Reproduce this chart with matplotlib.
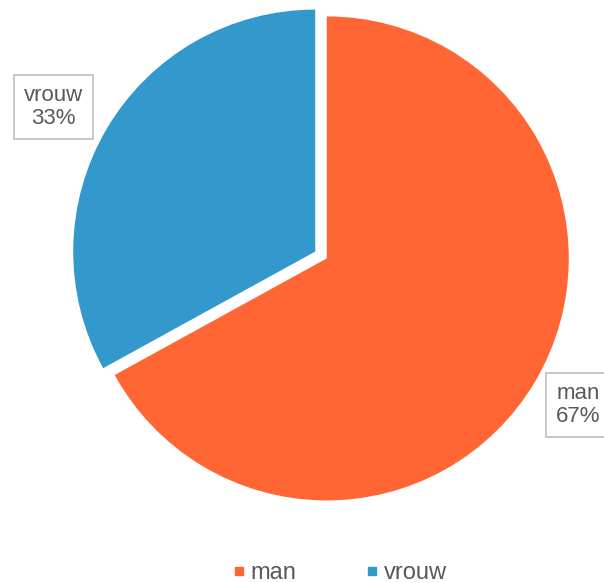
import matplotlib.pyplot as plt
from matplotlib.lines import Line2D

plt.rcParams['font.family'] = ['Liberation Sans', 'DejaVu Sans']

# data
labels = ['man', 'vrouw']
values = [67, 33]
colors = ['#FF6633', '#3399CC']
text_color = '#595959'

fig = plt.figure(figsize=(6.04, 5.83), dpi=100)
ax = fig.add_axes([0, 0, 1, 1])

# pie in pixel-like units (y up)
radius = 242
center = (321, 583 - 255)
ax.pie(values, colors=colors, startangle=90, counterclock=False,
       radius=radius, center=center, explode=[6.7, 6.7],
       wedgeprops=dict(linewidth=0))
ax.set_xlim(0, 604)
ax.set_ylim(0, 583)
ax.set_aspect('equal')
ax.axis('off')

# data labels
pcts = [f'{v / sum(values) * 100:.0f}%' for v in values]
label_pos = [(578, 583 - 405), (53.5, 583 - 107)]
for lab, pct, (x, y) in zip(labels, pcts, label_pos):
    ax.text(x, y, f'{lab}\n{pct}', ha='center', va='center',
            multialignment='center', fontsize=16, color=text_color,
            linespacing=1.12,
            bbox=dict(boxstyle='square,pad=0.45', facecolor='white',
                      edgecolor='#BFBFBF', linewidth=1.2))

# legend
handles = [Line2D([], [], marker='s', linestyle='', color=c, markersize=6)
           for c in colors]
fig.legend(handles, labels, loc='center', bbox_to_anchor=(0.564, 0.017),
           ncol=2, frameon=False, fontsize=17, labelcolor=text_color,
           handlelength=0.4, handletextpad=0.3, columnspacing=3.0,
           borderpad=0.1)

fig.savefig('out.png', dpi=100)
